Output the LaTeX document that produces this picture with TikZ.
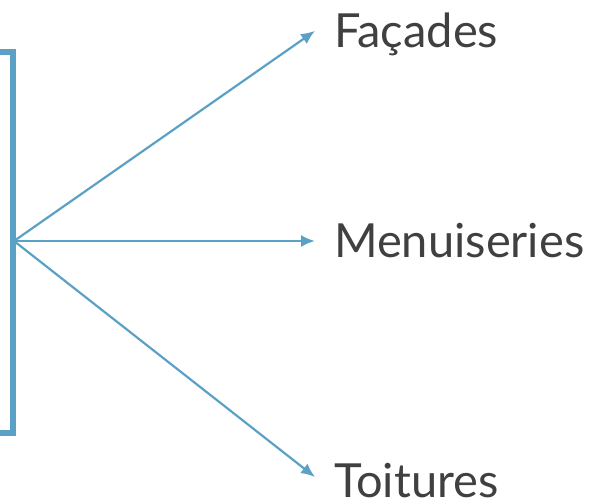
\documentclass[tikz,border=0pt]{standalone}
\usepackage{fontspec}
\setmainfont{Lato}
\usetikzlibrary{arrows.meta}
\definecolor{lienbleu}{RGB}{91,161,198}
\definecolor{textegris}{RGB}{64,64,64}
\begin{document}
\begin{tikzpicture}[x=1pt,y=-1pt,>={Latex[length=14pt,width=12pt]},
	lien/.style={draw=lienbleu,line width=2.2pt,->},
	etiquette/.style={anchor=base west,inner sep=0pt,text=textegris,font=\fontsize{47}{50}\selectfont}]
		\useasboundingbox (0,0) rectangle (589,499);
		\clip (0,0) rectangle (589,499);
		% accolade de gauche
		\draw[lienbleu,line width=5.5pt] (-40,52) rectangle (13,433);
		\coordinate (centre) at (14,241);
		\node[etiquette] (fac) at (334,47) {Façades};
		\node[etiquette] (men) at (334,257) {Menuiseries};
		\node[etiquette] (toi) at (334,497) {Toitures};
		\draw[lien] (centre) -- ([xshift=-19pt,yshift=3pt]fac.west);
		\draw[lien] (centre) -- ([xshift=-19pt]men.west |- centre);
		\draw[lien] (centre) -- ([xshift=-19pt,yshift=3pt]toi.west);
	\end{tikzpicture}
\end{document}
